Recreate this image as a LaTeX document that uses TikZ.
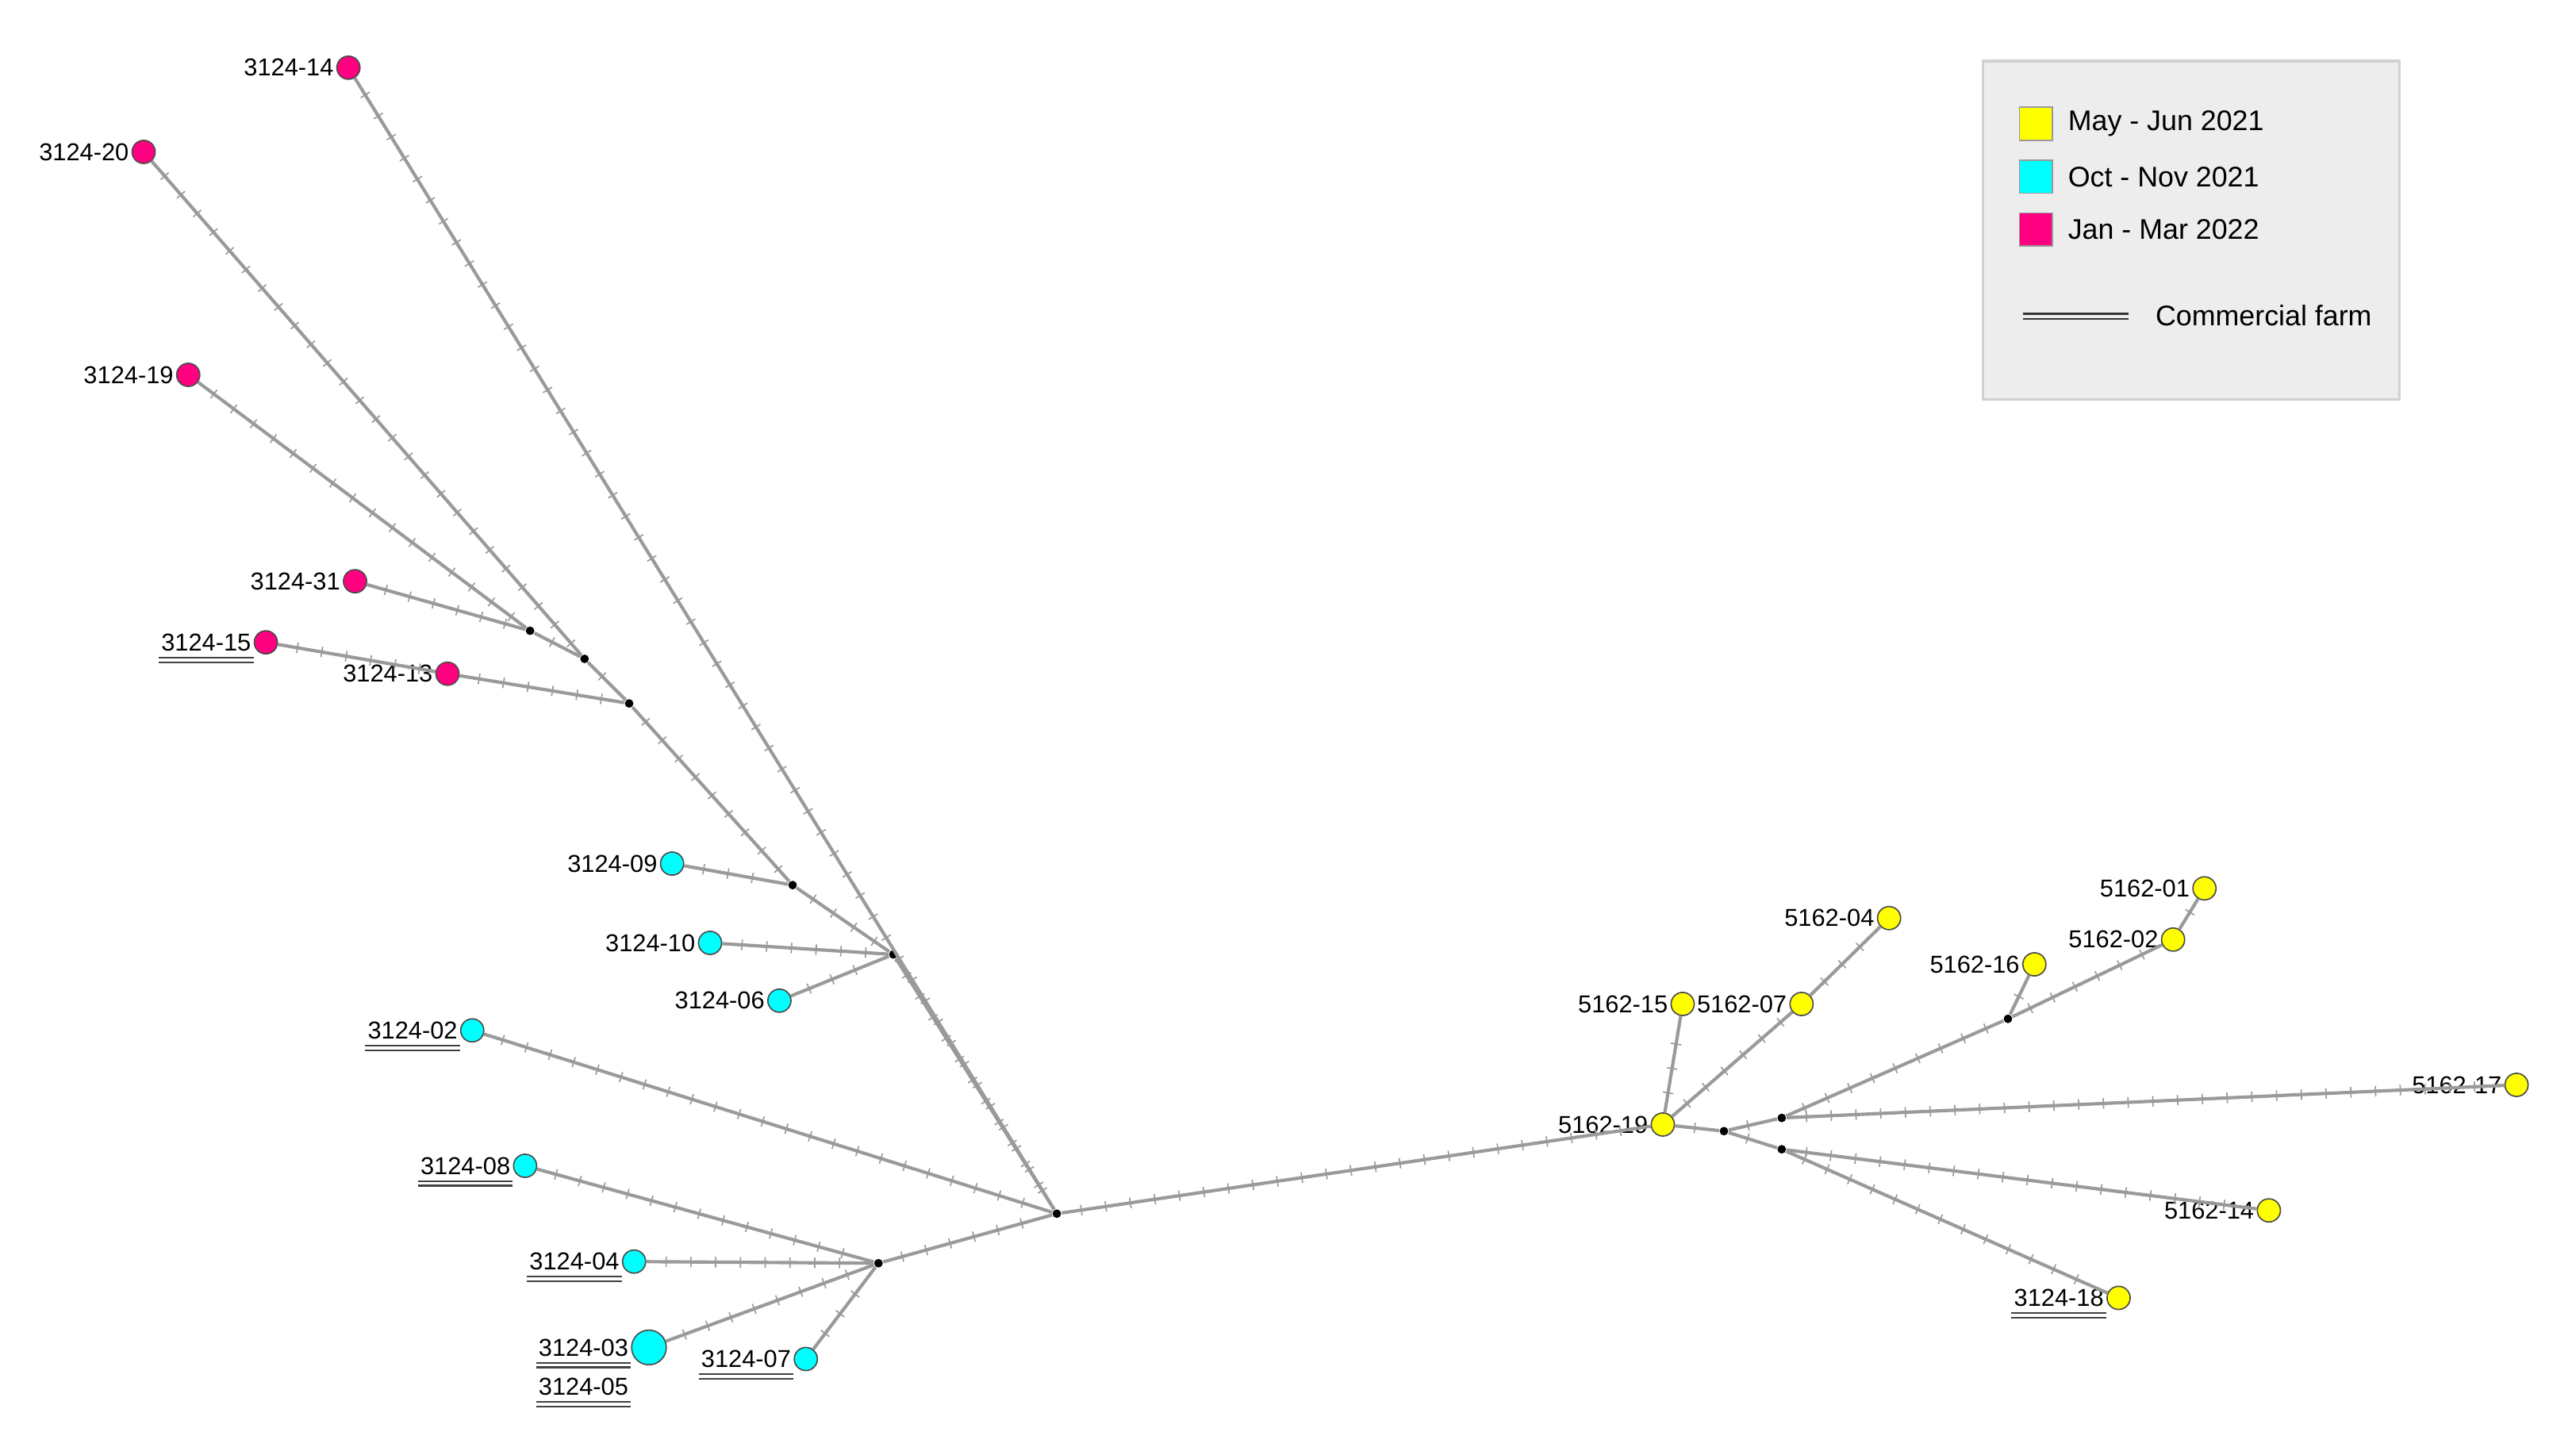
\documentclass[tikz,border=0pt]{standalone}
\usepackage{fontspec}
\setmainfont{Liberation Sans}
\usetikzlibrary{decorations.markings}
\definecolor{cy}{HTML}{00FFFF}
\definecolor{ye}{HTML}{FFFF00}
\definecolor{mg}{HTML}{FF0080}
\definecolor{eg}{HTML}{9A9A9A}
\begin{document}
\begin{tikzpicture}[x=0.5pt,y=-0.5pt,
 leaf/.style={circle,draw=black!70,line width=0.4pt,minimum size=7pt,inner sep=0pt},
 jn/.style={circle,fill=black,minimum size=2.6pt,inner sep=0pt},
 lab/.style={font=\fontsize{7.4}{8}\selectfont,inner sep=0.6pt,anchor=east},
 edge/.style={draw=eg,line width=1pt,postaction={decorate},
   decoration={markings,mark=between positions 6pt and -4pt step 7.5pt with {\draw[eg,line width=0.4pt] (0,-1.6pt)--(0,1.6pt);}}},
 leg/.style={font=\fontsize{8.6}{10}\selectfont,anchor=west,inner sep=0pt}]
\useasboundingbox (0,0) rectangle (1560,881);
\newcommand\farm[1]{\draw[black!75,line width=0.5pt] ([yshift=-1.2pt]#1.south west)--([yshift=-1.2pt]#1.south east) ([yshift=-2.6pt]#1.south west)--([yshift=-2.6pt]#1.south east);}
% legend
\draw[fill=black!7,draw=black!18,line width=0.8pt] (1201,37) rectangle (1453,242);
\node[draw=black!40,fill=ye,minimum size=10pt,inner sep=0pt] (sq1) at (1233,75) {};
\node[draw=black!40,fill=cy,minimum size=10pt,inner sep=0pt] (sq2) at (1233,107) {};
\node[draw=black!40,fill=mg,minimum size=10pt,inner sep=0pt] (sq3) at (1233,139) {};
\node[leg] (t1) at (1252,75) {May - Jun 2021};
\node[leg] (t2) at (1252,107) {Oct - Nov 2021};
\node[leg] (t3) at (1252,139) {Jan - Mar 2022};
\coordinate (da) at (1225,190); \coordinate (db) at (1289,190);
\draw[black!80,line width=0.6pt] (da)--(db) ([yshift=-1.6pt]da)--([yshift=-1.6pt]db);
\node[leg] (t4) at (1305,191) {Commercial farm};
% junctions
\node[jn] (H) at (640,735) {};
\node[jn] (L) at (532,765) {};
\node[jn] (M) at (541,578) {};
\node[jn] (A) at (480,536) {};
\node[jn] (B) at (381,426) {};
\node[jn] (C) at (354,399) {};
\node[jn] (D) at (321,382) {};
\node[jn] (J1) at (1044,685) {};
\node[jn] (J2) at (1079,677) {};
\node[jn] (J3) at (1079,696) {};
\node[jn] (J4) at (1216,617) {};
% leaves
\foreach \n/\x/\y/\c/\t in {
 a14/211/41/mg/3124-14, a20/87/92/mg/3124-20, a19/114/227/mg/3124-19,
 a31/215/352/mg/3124-31, a15/161/389/mg/3124-15, a13/271/408/mg/3124-13,
 a09/407/523/cy/3124-09, a10/430/571/cy/3124-10, a06/472/606/cy/3124-06,
 a02/286/624/cy/3124-02, a08/318/706/cy/3124-08, a04/384/764/cy/3124-04,
 a07/488/823/cy/3124-07,
 b19/1007/681/ye/5162-19, b04/1144/556/ye/5162-04, b15/1019/608/ye/5162-15,
 b07/1091/608/ye/5162-07, b01/1335/538/ye/5162-01, b02/1316/569/ye/5162-02,
 b16/1232/584/ye/5162-16, b17/1524/657/ye/5162-17, b14/1374/733/ye/5162-14,
 a18/1283/786/ye/3124-18}
 {\node[leaf,fill=\c] (\n) at (\x,\y) {};
  \node[lab] (l\n) at (\n.west) {\t};}
\node[leaf,fill=cy,minimum size=10.5pt] (a03) at (393,816) {};
\node[lab] (la03) at (a03.west) {3124-03};
\node[lab,anchor=north east] (la05) at ([yshift=-5pt]la03.south east) {3124-05};
\farm{la02}\farm{la08}\farm{la04}\farm{la03}\farm{la05}\farm{la07}\farm{la18}\farm{la15}
% edges
\draw[edge] (a14)--(H);
\draw[edge] (a20)--(C); \draw[edge] (C)--(B);
\draw[edge] (a19)--(D); \draw[edge] (a31)--(D); \draw[edge] (D)--(C);
\draw[edge] (a15)--(a13); \draw[edge] (a13)--(B);
\draw[edge] (B)--(A); \draw[edge] (a09)--(A); \draw[edge] (A)--(M);
\draw[edge] (a10)--(M); \draw[edge] (a06)--(M); \draw[edge] (M)--(H);
\draw[edge] (a02)--(H);
\draw[edge] (a08)--(L); \draw[edge] (a04)--(L); \draw[edge] (a03)--(L); \draw[edge] (a07)--(L);
\draw[edge] (L)--(H);
\draw[edge] (H)--(b19);
\draw[edge] (b19)--(b15); \draw[edge] (b19)--(b07); \draw[edge] (b07)--(b04);
\draw[edge] (b19)--(J1); \draw[edge] (J1)--(J2); \draw[edge] (J1)--(J3);
\draw[edge] (J2)--(J4); \draw[edge] (J4)--(b02); \draw[edge] (b02)--(b01); \draw[edge] (J4)--(b16);
\draw[edge] (J2)--(b17);
\draw[edge] (J3)--(b14); \draw[edge] (J3)--(a18);
\end{tikzpicture}
\end{document}
